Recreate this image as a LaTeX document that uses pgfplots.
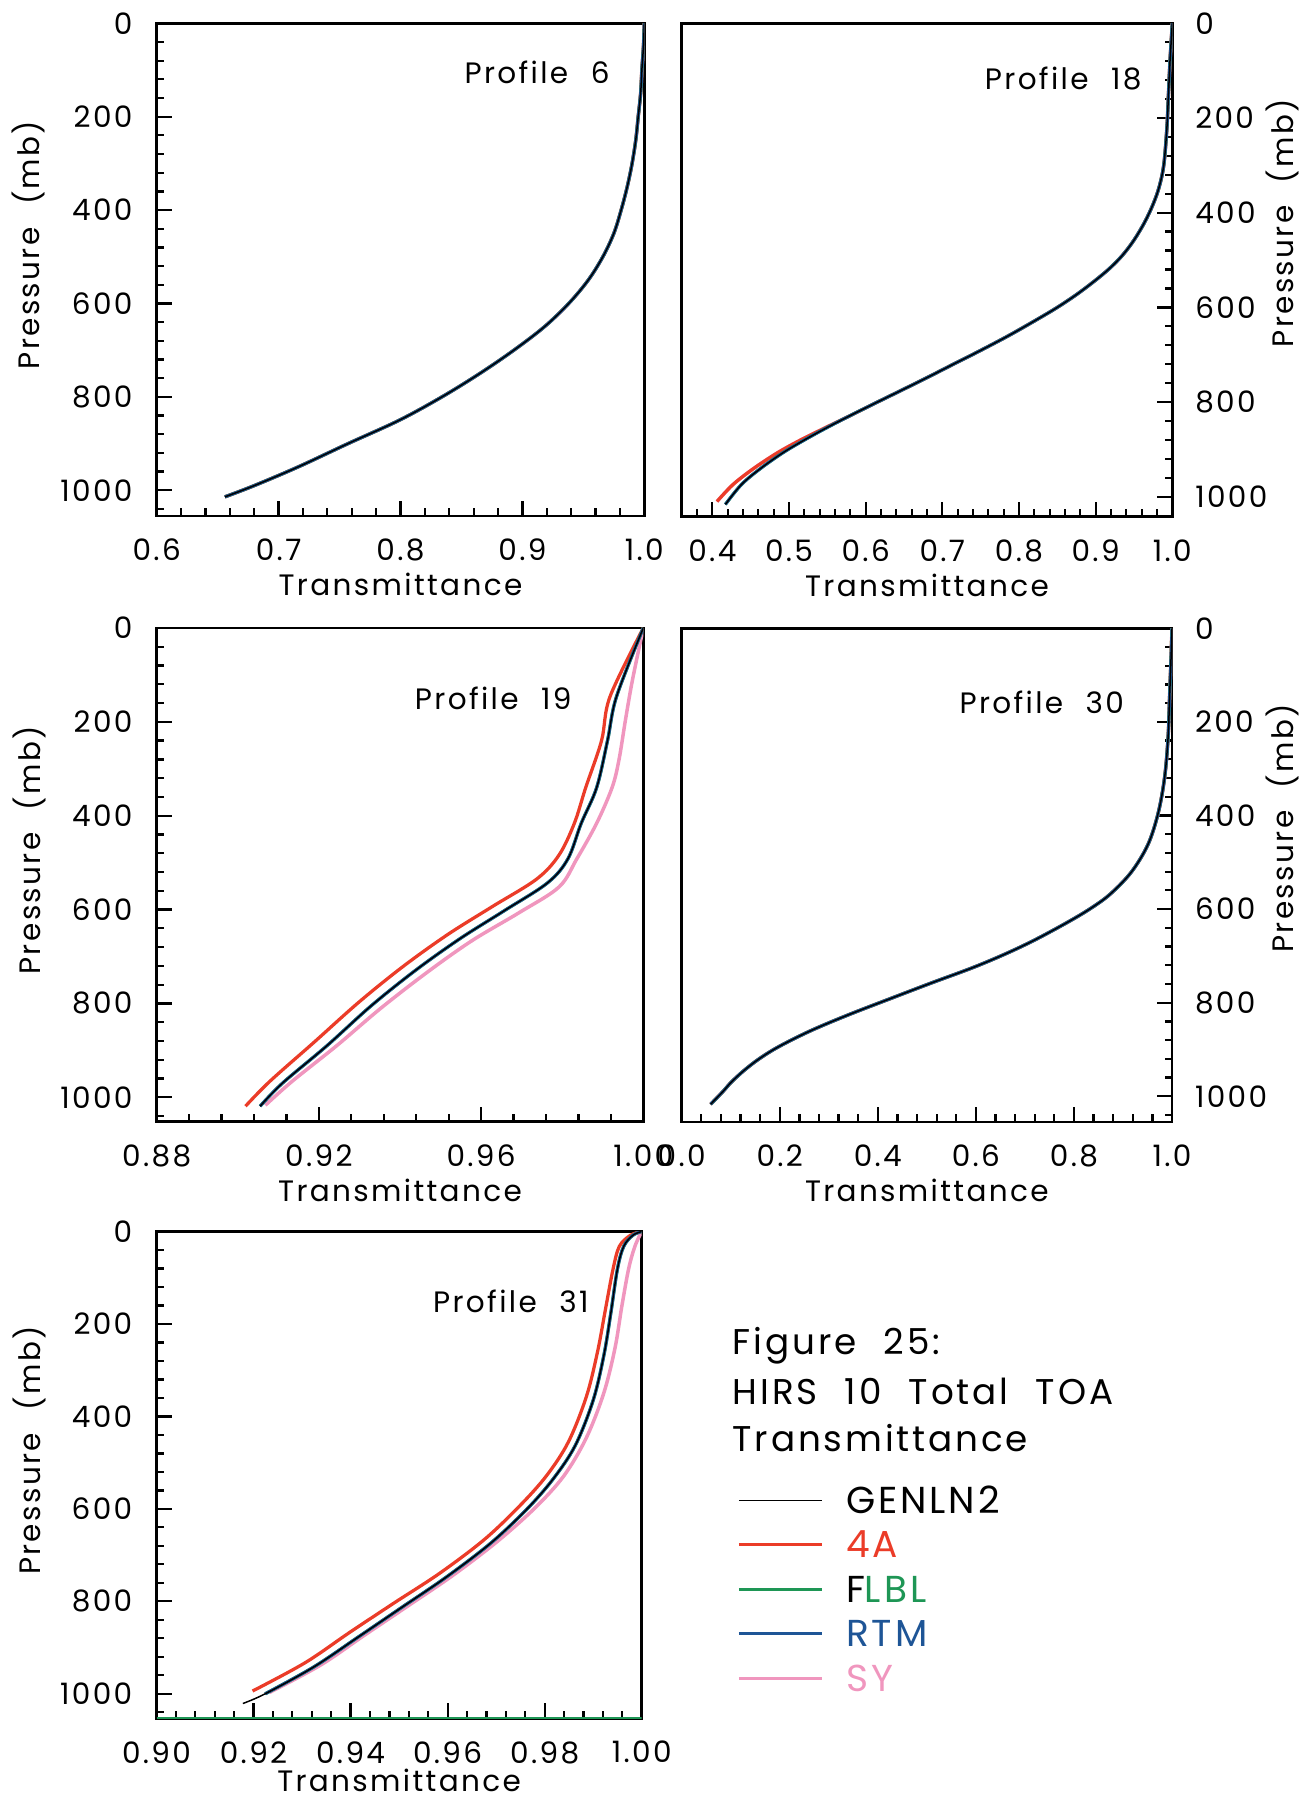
\documentclass[border=0pt]{standalone}
\usepackage{fontspec}
\setmainfont{Poppins}[LetterSpace=8, WordSpace=2.2]
\usepackage{pgfplots}
\usepackage{pgfplotstable}
\pgfplotsset{compat=1.18}

\definecolor{cFourA}{RGB}{235,60,40}
\definecolor{cFLBL}{RGB}{30,150,85}
\definecolor{cRTM}{RGB}{30,85,150}
\definecolor{cSY}{RGB}{240,150,190}

% ---------------- Profile 6 ----------------
\pgfplotstableread{
t p
1.000 0
0.9993 50
0.998 100
0.997 150
0.995 200
0.993 250
0.990 300
0.986 350
0.981 400
0.975 450
0.966 500
0.954 550
0.938 600
0.918 650
0.893 700
0.865 750
0.834 800
0.799 850
0.757 900
0.716 950
0.680 990
0.656 1014
}\profSix

% ---------------- Profile 18 ----------------
\pgfplotstableread{
t p
1.000 0
0.9985 40
0.997 80
0.995 150
0.993 220
0.989 298
0.983 345
0.975 382
0.964 420
0.950 458
0.935 490
0.918 518
0.898 545
0.875 573
0.850 600
0.822 627
0.785 661
0.745 695
0.712 722
0.678 750
0.643 778
0.609 805
0.578 830
0.547 856
0.519 881
0.492 907
0.463 940
0.438 974
0.417 1016
}\profEighteen
\pgfplotstableread{
t p
1.000 0
0.9985 40
0.997 80
0.995 150
0.993 220
0.989 298
0.983 345
0.975 382
0.964 420
0.950 458
0.935 490
0.918 518
0.898 545
0.875 573
0.850 600
0.822 627
0.785 661
0.745 695
0.712 722
0.678 750
0.643 778
0.609 805
0.578 830
0.545 856
0.514 881
0.485 907
0.454 940
0.427 974
0.406 1010
}\profEighteenB

% ---------------- Profile 19 ----------------
\pgfplotstableread{
t p
1.000 0
0.9934 146
0.9912 239
0.9885 340
0.9847 416
0.9814 492
0.9764 543
0.9658 602
0.9548 662
0.9439 729
0.9329 805
0.9220 890
0.9110 970
0.9055 1019
}\profNineteen
\pgfplotstableread{
t p
1.000 0
0.9918 146
0.9897 240
0.9858 340
0.9830 416
0.9792 484
0.9737 535
0.9627 594
0.9518 653
0.9408 721
0.9299 797
0.9189 882
0.9079 966
0.9019 1019
}\profNineteenFourA
\pgfplotstableread{
t p
1.000 0
0.9973 112
0.9956 196
0.9940 281
0.9923 340
0.9885 416
0.9836 492
0.9792 552
0.9693 607
0.9578 666
0.9468 733
0.9353 810
0.9244 890
0.9134 966
0.9068 1017
}\profNineteenSY

% ---------------- Profile 30 ----------------
\pgfplotstableread{
t p
1.000 0
0.998 64
0.995 148
0.992 233
0.985 318
0.972 394
0.951 462
0.917 521
0.874 568
0.835 598
0.789 627
0.722 665
0.662 695
0.594 725
0.509 758
0.424 792
0.340 826
0.263 860
0.198 894
0.158 920
0.127 945
0.101 970
0.084 990
0.059 1017
}\profThirty

% ---------------- Profile 31 ----------------
\pgfplotstableread{
t p
1.000 0
0.9982 8
0.9963 32
0.9950 81
0.9936 179
0.9922 268
0.9900 365
0.9863 463
0.9817 536
0.9763 601
0.9689 674
0.9598 747
0.9507 812
0.9416 877
0.9324 942
0.9224 1000
}\profThirtyOne
\pgfplotstableread{
t p
1.000 0
0.9982 8
0.9963 32
0.9950 81
0.9936 179
0.9922 268
0.9900 365
0.9863 463
0.9817 536
0.9763 601
0.9689 674
0.9598 747
0.9507 812
0.9416 877
0.9324 942
0.9224 1000
0.9178 1021
}\profThirtyOneGEN
\pgfplotstableread{
t p
1.000 0
0.9977 8
0.9954 32
0.9941 81
0.9925 170
0.9909 260
0.9886 357
0.9849 455
0.9804 528
0.9749 593
0.9676 666
0.9584 739
0.9489 804
0.9397 868
0.9306 933
0.9198 994
}\profThirtyOneFourA
\pgfplotstableread{
t p
1.000 0
0.9986 32
0.9973 81
0.9959 162
0.9945 252
0.9922 349
0.9886 446
0.9840 528
0.9781 597
0.9703 670
0.9612 743
0.9521 808
0.9429 873
0.9338 938
0.9233 997
}\profThirtyOneSY

\pgfplotsset{
  sy/.style={cSY, line width=1.4pt, smooth, tension=0.55},
  fa/.style={cFourA, line width=1.3pt, smooth, tension=0.55},
  fl/.style={cFLBL, line width=1.3pt, smooth, tension=0.55},
  rt/.style={cRTM, line width=1.2pt, smooth, tension=0.55},
  gn/.style={black, line width=0.6pt, smooth, tension=0.55},
  panel/.style={
    scale only axis,
    y dir=reverse,
    ymin=0,
    axis line style={line width=1.1pt},
    every tick/.style={black, line width=0.9pt},
    tick align=inside,
    major tick length=6pt,
    minor tick length=3pt,
    xtick pos=left,
    ytick={0,200,400,600,800,1000},
    minor ytick={40,80,...,1040},
    tick label style={font=\fontsize{11.8}{14}\selectfont, inner sep=0pt},
    /pgf/number format/assume math mode=true,
    /pgf/number format/1000 sep={},
    xticklabel style={anchor=north, yshift=-9pt},
    xlabel={Transmittance},
    ylabel={Pressure (mb)},
    label style={font=\fontsize{11.8}{14}\selectfont, inner sep=0pt},
    xlabel style={at={(axis description cs:0.5,0)}, anchor=north, yshift=-22.6pt},
  },
  leftpanel/.style={
    ytick pos=left,
    yticklabel style={anchor=east, xshift=-9.5pt},
    ylabel style={at={(axis description cs:-0.262,0.55)}, anchor=center},
  },
  rightpanel/.style={
    ytick pos=right,
    yticklabel pos=right,
    yticklabel style={anchor=west, xshift=9pt},
    ylabel style={at={(axis description cs:1.225,0.595)}, anchor=center},
  },
  onedec/.style={xticklabel style={/pgf/number format/.cd, fixed, fixed zerofill, precision=1}},
  twodec/.style={xticklabel style={/pgf/number format/.cd, fixed, fixed zerofill, precision=2}},
}

\begin{document}
\begin{tikzpicture}
\useasboundingbox (0,0) rectangle (524.8pt,721.6pt);

% Profile 6
\begin{axis}[panel, leftpanel, onedec,
  at={(62.68pt,515.2pt)}, anchor=south west,
  width=195.04pt, height=197.08pt,
  xmin=0.6, xmax=1.0, ymax=1055,
  xtick={0.6,0.7,0.8,0.9,1.0},
  minor xtick={0.62,0.64,0.66,0.68,0.72,0.74,0.76,0.78,0.82,0.84,0.86,0.88,0.92,0.94,0.96,0.98}]
  \addplot[sy] table[x=t,y=p] {\profSix};
  \addplot[fa] table[x=t,y=p] {\profSix};
  \addplot[fl] table[x=t,y=p] {\profSix};
  \addplot[rt] table[x=t,y=p] {\profSix};
  \addplot[gn] table[x=t,y=p] {\profSix};
\end{axis}

% Profile 18
\begin{axis}[panel, rightpanel, onedec,
  at={(272.68pt,514.92pt)}, anchor=south west,
  width=196.24pt, height=197.36pt,
  xmin=0.36, xmax=1.0, ymax=1042,
  xtick={0.4,0.5,0.6,0.7,0.8,0.9,1.0},
  minor xtick={0.38,0.42,0.44,0.46,0.48,0.52,0.54,0.56,0.58,0.62,0.64,0.66,0.68,0.72,0.74,0.76,0.78,0.82,0.84,0.86,0.88,0.92,0.94,0.96,0.98}]
  \addplot[sy] table[x=t,y=p] {\profEighteenB};
  \addplot[fa] table[x=t,y=p] {\profEighteenB};
  \addplot[fl] table[x=t,y=p] {\profEighteen};
  \addplot[rt] table[x=t,y=p] {\profEighteen};
  \addplot[gn] table[x=t,y=p] {\profEighteen};
\end{axis}

% Profile 19
\begin{axis}[panel, leftpanel, twodec,
  at={(62.68pt,272.92pt)}, anchor=south west,
  width=194.64pt, height=197.48pt,
  xmin=0.88, xmax=1.0, ymax=1052,
  xtick={0.88,0.92,0.96,1.00},
  minor xtick={0.888,0.896,0.904,0.912,0.928,0.936,0.944,0.952,0.968,0.976,0.984,0.992}]
  \addplot[sy] table[x=t,y=p] {\profNineteenSY};
  \addplot[fa] table[x=t,y=p] {\profNineteenFourA};
  \addplot[fl] table[x=t,y=p] {\profNineteen};
  \addplot[rt] table[x=t,y=p] {\profNineteen};
  \addplot[gn] table[x=t,y=p] {\profNineteen};
\end{axis}

% Profile 30
\begin{axis}[panel, rightpanel, onedec,
  at={(272.68pt,272.8pt)}, anchor=south west,
  width=196.12pt, height=197.48pt,
  xmin=0.0, xmax=1.0, ymax=1055,
  xtick={0,0.2,0.4,0.6,0.8,1.0},
  minor xtick={0.04,0.08,0.12,0.16,0.24,0.28,0.32,0.36,0.44,0.48,0.52,0.56,0.64,0.68,0.72,0.76,0.84,0.88,0.92,0.96}]
  \addplot[sy] table[x=t,y=p] {\profThirty};
  \addplot[fa] table[x=t,y=p] {\profThirty};
  \addplot[fl] table[x=t,y=p] {\profThirty};
  \addplot[rt] table[x=t,y=p] {\profThirty};
  \addplot[gn] table[x=t,y=p] {\profThirty};
\end{axis}

% Profile 31, carrying the legend
\begin{axis}[panel, leftpanel, twodec,
  at={(62.6pt,34.28pt)}, anchor=south west,
  width=194.08pt, height=194.72pt,
  xmin=0.90, xmax=1.00, ymax=1053,
  xtick={0.90,0.92,0.94,0.96,0.98,1.00},
  minor xtick={0.904,0.908,0.912,0.916,0.924,0.928,0.932,0.936,0.944,0.948,0.952,0.956,0.964,0.968,0.972,0.976,0.984,0.988,0.992,0.996},
  xlabel style={yshift=2.4pt},
  legend cell align=left,
  legend image code/.code={\draw[#1] (0pt,0pt) -- (33.3pt,0pt);},
  legend style={draw=none, fill=none, inner sep=0pt,
    at={(axis description cs:1.1959,0.4757)}, anchor=north west,
    font=\fontsize{15}{18}\selectfont, row sep=7.3pt,
    nodes={inner sep=0pt, text height=10.5pt, text depth=0pt},
    /tikz/every odd column/.style={column sep=9pt}}]
  \addlegendimage{black, line width=0.6pt}
  \addlegendentry{GENLN2}
  \addlegendimage{cFourA, line width=1.2pt}
  \addlegendentry{\textcolor{cFourA}{4A}}
  \addlegendimage{cFLBL, line width=1.2pt}
  \addlegendentry{F\textcolor{cFLBL}{LBL}}
  \addlegendimage{cRTM, line width=1.2pt}
  \addlegendentry{\textcolor{cRTM}{RTM}}
  \addlegendimage{cSY, line width=1.2pt}
  \addlegendentry{\textcolor{cSY}{SY}}
  \addplot[cFLBL, line width=1.4pt, forget plot] coordinates {(0.90,1053) (1.00,1053)};
  \addplot[sy, forget plot] table[x=t,y=p] {\profThirtyOneSY};
  \addplot[fa, forget plot] table[x=t,y=p] {\profThirtyOneFourA};
  \addplot[fl, forget plot] table[x=t,y=p] {\profThirtyOne};
  \addplot[rt, forget plot] table[x=t,y=p] {\profThirtyOne};
  \addplot[gn, forget plot] table[x=t,y=p] {\profThirtyOneGEN};
\end{axis}

% Panel captions
\begin{scope}[every node/.style={font=\fontsize{11.8}{14}\selectfont, inner sep=0pt, anchor=east}]
  \node at (244.0pt,692.6pt) {Profile 6};
  \node at (456.8pt,690.0pt) {Profile 18};
  \node at (228.8pt,442.2pt) {Profile 19};
  \node at (449.8pt,440.8pt) {Profile 30};
  \node at (235.6pt,200.9pt) {Profile 31};
\end{scope}

% Figure title
\begin{scope}[every node/.style={font=\fontsize{14.3}{18}\selectfont, inner sep=0pt, anchor=base west}]
  \node at (292.9pt,179.6pt) {Figure 25:};
  \node at (292.9pt,159.6pt) {HIRS 10 Total TOA};
  \node at (292.9pt,140.9pt) {Transmittance};
\end{scope}
\end{tikzpicture}
\end{document}
